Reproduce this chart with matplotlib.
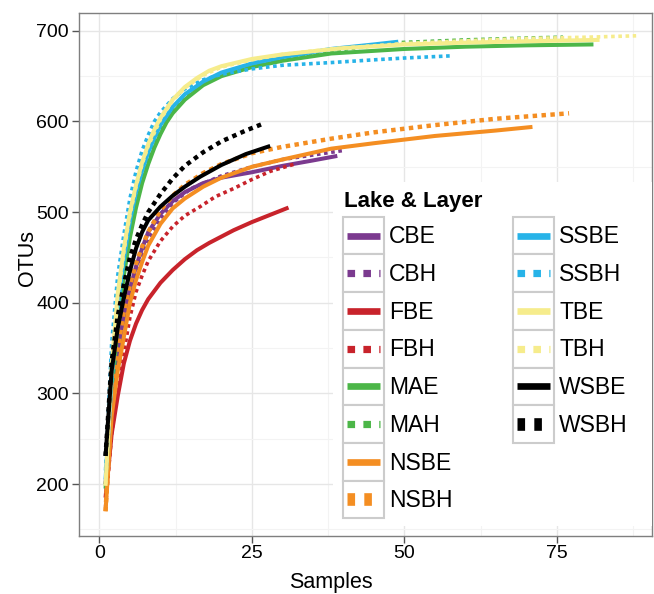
import numpy as np
import matplotlib
matplotlib.use("Agg")
import matplotlib.pyplot as plt
from matplotlib.lines import Line2D
from matplotlib.patches import Rectangle
from matplotlib.ticker import MultipleLocator

plt.rcParams['font.family'] = ['Liberation Sans', 'DejaVu Sans']

# rarefaction curves: OTUs vs number of samples, per lake & layer
CBE_x = [1, 2, 3, 4, 5, 6, 7, 8, 10, 12, 14, 17, 20, 25, 30, 35, 39]
CBE_y = [200, 290, 345, 385, 415, 440, 460, 478, 498, 512, 522, 532, 538, 544, 551, 557, 562]
CBH_x = [1, 2, 3, 4, 5, 6, 8, 10, 12, 15, 20, 25, 30, 35, 40]
CBH_y = [200, 285, 340, 380, 410, 435, 470, 493, 510, 526, 540, 550, 558, 563, 568]
FBE_x = [1, 2, 3, 4, 5, 6, 7, 8, 10, 12, 14, 16, 18, 20, 22, 25, 28, 31]
FBE_y = [185, 255, 297, 333, 358, 377, 392, 404, 422, 436, 448, 458, 466, 473, 480, 489, 497, 505]
FBH_x = [1, 2, 3, 4, 5, 6, 7, 8, 10, 12, 14, 16.5, 19, 22, 25, 28, 32]
FBH_y = [175, 255, 305, 345, 384, 412, 430, 446, 468, 484, 496, 506, 517, 526, 536, 545, 553]
MAE_x = [1, 2, 3, 4, 5, 6, 7, 8, 9, 10, 11, 12, 14, 17, 20, 25, 30, 38, 50, 60, 70, 81]
MAE_y = [195, 300, 375, 430, 472, 505, 532, 553, 571, 586, 599, 609, 624, 640, 650, 660, 667, 675, 680, 682.5, 684, 685]
MAH_x = [1, 2, 3, 4, 5, 6, 7, 8, 10, 12, 14, 17, 20, 25, 30, 38, 49, 60, 70, 76]
MAH_y = [200, 312, 392, 445, 486, 518, 543, 562, 592, 612, 627, 641, 651, 662, 670, 678, 687, 690, 692, 693]
NSBE_x = [1, 2, 3, 4, 5, 6, 7, 8, 10, 12, 14, 17, 20, 25, 30, 38, 45, 55, 65, 71]
NSBE_y = [170, 275, 325, 362, 400, 425, 445, 463, 487, 504, 515, 528, 538, 550, 558, 570, 576, 584, 590, 594]
NSBH_x = [1, 2, 3, 4, 5, 6, 7, 8, 10, 12, 14, 17, 20, 25, 30, 38, 45, 55, 65, 77]
NSBH_y = [170, 290, 350, 390, 420, 443, 462, 478, 502, 518, 530, 543, 553, 565, 572, 581, 588, 596, 603, 609]
SSBE_x = [1, 2, 3, 4, 5, 6, 7, 8, 9, 10, 12, 14, 17, 20, 25, 30, 38, 45, 49]
SSBE_y = [205, 315, 395, 448, 490, 522, 546, 566, 582, 596, 616, 630, 644, 654, 664, 671, 680, 685, 688]
SSBH_x = [1, 2, 3, 4, 5, 6, 7, 8, 9, 10, 12, 14, 17, 20, 25, 30, 38, 45, 50, 58]
SSBH_y = [215, 355, 430, 475, 515, 545, 568, 585, 600, 610, 625, 636, 646, 652, 658, 662, 665, 668, 670, 672.5]
TBE_x = [1, 2, 3, 4, 5, 6, 7, 8, 9, 10, 12, 14, 16, 18, 20, 25, 30, 40, 50, 60, 70, 82]
TBE_y = [198, 330, 410, 460, 500, 530, 555, 575, 591, 604, 624, 638, 648, 656, 661, 669, 674, 681, 685, 687, 688.5, 690]
TBH_x = [1, 2, 3, 4, 5, 6, 7, 8, 10, 12, 14, 17, 20, 25, 30, 38, 50, 60, 70, 80, 88]
TBH_y = [200, 322, 404, 456, 497, 528, 553, 573, 602, 623, 637, 651, 660, 668, 674, 680, 686, 689, 691.5, 693, 694.5]
WSBE_x = [1, 2, 3, 4, 5, 6, 7, 8, 10, 12, 14, 16.5, 20, 24, 28]
WSBE_y = [231, 325, 372, 405, 435, 460, 478, 491, 506, 518, 528, 539, 552, 564, 573]
WSBH_x = [1, 2, 3, 4, 5, 6, 7, 8, 10, 12, 14, 17, 20, 24, 27]
WSBH_y = [231, 335, 385, 420, 450, 470, 486, 500, 520, 537, 551, 566, 578, 590, 598]

groups = ['CBE', 'CBH', 'FBE', 'FBH', 'MAE', 'MAH', 'NSBE', 'NSBH',
          'SSBE', 'SSBH', 'TBE', 'TBH', 'WSBE', 'WSBH']
xs = [CBE_x, CBH_x, FBE_x, FBH_x, MAE_x, MAH_x, NSBE_x, NSBH_x,
      SSBE_x, SSBH_x, TBE_x, TBH_x, WSBE_x, WSBH_x]
ys = [CBE_y, CBH_y, FBE_y, FBH_y, MAE_y, MAH_y, NSBE_y, NSBH_y,
      SSBE_y, SSBH_y, TBE_y, TBH_y, WSBE_y, WSBH_y]

lake_colors = {'CB': '#7b3a8f', 'FB': '#c8232b', 'MA': '#4cb648', 'NSB': '#f48e22',
               'SSB': '#27b3e8', 'TB': '#f6ec8c', 'WSB': '#000000'}

W, H = 654, 594
fig = plt.figure(figsize=(W / 100, H / 100), dpi=100)
ax = fig.add_axes([78.7 / W, 1 - 535.7 / H, (652 - 78.7) / W, (535.7 - 12.7) / H])

for g, x, y in zip(groups, xs, ys):
    c = lake_colors[g[:-1]]
    if g.endswith('E'):
        ax.plot(x, y, color=c, lw=2.9, solid_capstyle='butt', solid_joinstyle='round')
    else:
        big = g in ('WSBH', 'NSBH')
        ax.plot(x, y, color=c, lw=3.2 if big else 2.6, linestyle=(0, (1, 1)),
                dash_capstyle='butt')

ax.set_xlim(-3.4, 90.6)
ax.set_ylim(143, 720)
ax.xaxis.set_major_locator(MultipleLocator(25))
ax.xaxis.set_minor_locator(MultipleLocator(12.5))
ax.yaxis.set_major_locator(MultipleLocator(100))
ax.yaxis.set_minor_locator(MultipleLocator(50))
ax.grid(which='major', color='#e6e6e6', lw=1.0)
ax.grid(which='minor', color='#f3f3f3', lw=0.8)
ax.set_axisbelow(True)
for s in ax.spines.values():
    s.set_color('#7f7f7f')
    s.set_linewidth(1.0)
ax.tick_params(which='major', direction='out', length=5, width=1, color='#555555',
               labelsize=14, pad=2, labelcolor='black')
ax.tick_params(which='minor', length=0)

fig.text(331 / W, 1 - 588.3 / H, 'Samples', fontsize=15.5, ha='center', va='baseline')
fig.text(33 / W, 1 - 257.5 / H, 'OTUs', fontsize=15.5, rotation=90,
         rotation_mode='anchor', ha='center', va='baseline')

# legend, drawn by hand with one box per key
def fx(px):
    return px / W

def fy(py):
    return 1 - py / H

fig.add_artist(Rectangle((fx(333), fy(526)), fx(652) - fx(333), fy(182) - fy(526),
                         transform=fig.transFigure, facecolor='white', edgecolor='none', zorder=5))
fig.text(fx(344), fy(206.7), 'Lake & Layer', fontsize=16, fontweight='bold',
         ha='left', va='baseline', zorder=7)

row_h = 37.7
top0 = 216.7
col_left = [343.3, 513.3]
for i, g in enumerate(groups):
    col = 0 if i < 8 else 1
    row = i if i < 8 else i - 8
    bx = col_left[col]
    top = top0 + row * row_h
    fig.add_artist(Rectangle((fx(bx), fy(top + row_h)), fx(40.7), row_h / H,
                             transform=fig.transFigure, facecolor='white',
                             edgecolor='#cccccc', lw=1.5, zorder=6))
    c = lake_colors[g[:-1]]
    yc = fy(top + row_h / 2)
    if g.endswith('E'):
        ln = Line2D([fx(bx + 4), fx(bx + 36.7)], [yc, yc], color=c, lw=4.8,
                    solid_capstyle='butt', transform=fig.transFigure, zorder=7)
    elif g in ('WSBH', 'NSBH'):
        ln = Line2D([fx(bx + 4), fx(bx + 36.7)], [yc, yc], color=c, lw=9.1,
                    linestyle=(0, (0.6, 0.73)), dash_capstyle='butt',
                    transform=fig.transFigure, zorder=7)
    else:
        ln = Line2D([fx(bx + 4), fx(bx + 36.7)], [yc, yc], color=c, lw=5.2,
                    linestyle=(0, (1.05, 1.15)), dash_capstyle='butt',
                    transform=fig.transFigure, zorder=7)
    fig.add_artist(ln)
    fig.text(fx(bx + 46), fy(top + 26.6), g, fontsize=16.5, ha='left', va='baseline', zorder=7)

plt.savefig("out.png", dpi=100)
